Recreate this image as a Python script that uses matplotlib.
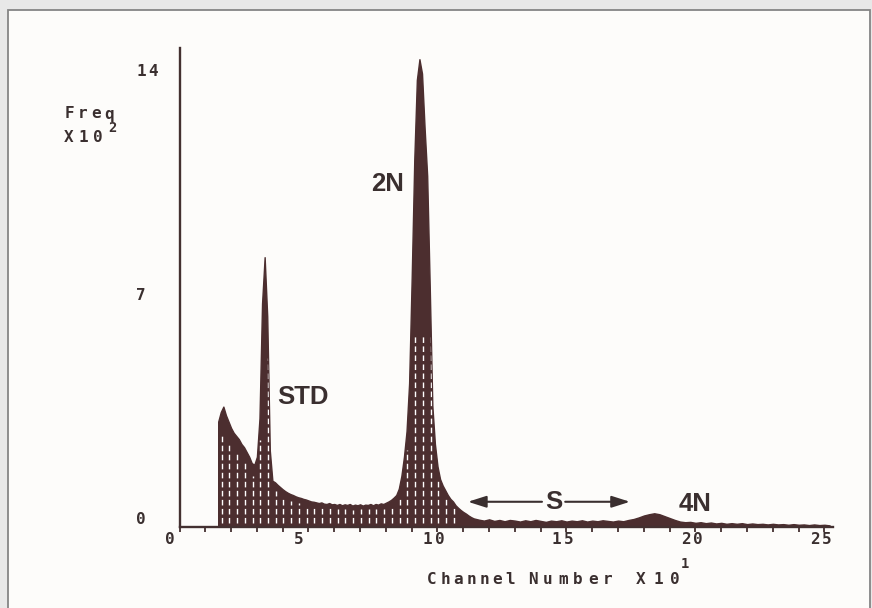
import numpy as np
import matplotlib
matplotlib.use("Agg")
import matplotlib.pyplot as plt
from matplotlib.patches import Rectangle

# ---------------- data ----------------
# channel number (raw channels; axis is in units of 10 channels)
channels = [15, 16, 17, 18, 19, 20, 21, 22, 23, 24, 25, 26, 27, 28, 29,
            30, 31, 32, 33, 34, 35, 36, 37, 38, 39, 40, 41, 42, 43, 44,
            45, 46, 47, 48, 49, 50, 51, 52, 53, 54, 55, 56, 57, 58, 59,
            60, 61, 62, 63, 64, 65, 66, 67, 68, 69, 70, 71, 72, 73, 74,
            75, 76, 77, 78, 79, 80, 81, 82, 83, 84, 85, 86, 87, 88, 89,
            90, 91, 92, 93, 94, 95, 96, 97, 98, 99, 100, 101, 102, 103, 104,
            105, 106, 107, 108, 109, 110, 111, 112, 113, 114, 115,
            116, 118, 120, 122, 124, 126, 128, 130, 132, 134, 136, 138, 140,
            142, 144, 146, 148, 150, 152, 154, 156, 158, 160, 162, 164, 166,
            168, 170, 172, 174, 176, 178, 180, 182, 184, 186, 188, 190, 192,
            194, 196, 198, 200, 202, 204, 206, 208, 210, 212, 214, 216, 218,
            220, 222, 224, 226, 228, 230, 232, 234, 236, 238, 240, 242, 244,
            246, 248, 250, 252]
# frequency in units of 10^2
freq = [3.3, 3.6, 3.77, 3.5, 3.3, 3.1, 2.95, 2.85, 2.75, 2.6, 2.5, 2.35, 2.2, 2.0, 1.95,
        2.2, 3.4, 7.0, 8.45, 6.6, 2.4, 1.45, 1.4, 1.32, 1.25, 1.18, 1.12, 1.07, 1.03, 1.0,
        0.96, 0.93, 0.91, 0.88, 0.86, 0.83, 0.8, 0.79, 0.77, 0.75, 0.77, 0.73, 0.72, 0.75, 0.71,
        0.72, 0.69, 0.72, 0.68, 0.71, 0.69, 0.72, 0.67, 0.7, 0.68, 0.71, 0.67, 0.7, 0.69, 0.72,
        0.68, 0.72, 0.7, 0.74, 0.72, 0.76, 0.8, 0.85, 0.92, 1.0, 1.2, 1.6, 2.2, 3.0, 4.5,
        7.8, 11.5, 14.0, 14.65, 14.2, 12.5, 11.0, 7.5, 3.8, 2.6, 1.9, 1.5, 1.3, 1.15, 1.0,
        0.88, 0.8, 0.68, 0.6, 0.53, 0.47, 0.42, 0.36, 0.31, 0.27, 0.25,
        0.23, 0.2, 0.24, 0.19, 0.22, 0.18, 0.22, 0.2, 0.17, 0.21, 0.18, 0.22, 0.19,
        0.16, 0.2, 0.18, 0.21, 0.17, 0.2, 0.18, 0.21, 0.17, 0.2, 0.18, 0.21, 0.19,
        0.17, 0.2, 0.18, 0.22, 0.25, 0.3, 0.36, 0.4, 0.43, 0.4, 0.34, 0.28, 0.22,
        0.17, 0.15, 0.16, 0.13, 0.15, 0.12, 0.14, 0.11, 0.13, 0.1, 0.12, 0.1, 0.12,
        0.09, 0.11, 0.09, 0.1, 0.08, 0.1, 0.08, 0.09, 0.07, 0.09, 0.07, 0.08, 0.06,
        0.08, 0.06, 0.07, 0.05]

x_ticks = [0, 5, 10, 15, 20, 25]
x_tick_labels = ["0", "5", "10", "15", "20", "25"]
y_ticks = [0, 7, 14]
y_tick_labels = ["0", "7", "14"]
peak_names = ["STD", "2N", "4N"]
peak_pos = [(4.79, 4.08), (8.05, 10.75), (19.98, 0.72)]   # label anchor (x in 10 ch, y in 10^2)
s_label = "S"
s_range = (11.18, 17.46)
s_level = 0.79

W, H = 872, 608
ink = "#4c2e2f"
txt = "#3a2f2f"

fig = plt.figure(figsize=(W / 100, H / 100), dpi=100)
fig.patch.set_facecolor("#e8e8e8")
fig.patches.append(Rectangle((8 / W, -0.02), (870 - 8) / W, (H - 10) / H + 0.02,
                             transform=fig.transFigure, facecolor="#fdfcfa",
                             edgecolor="#858585", lw=1.3, zorder=-5))

ax = fig.add_axes([179.5 / W, 81 / H, (833 - 179.5) / W, 479 / H])
ax.set_zorder(2)
ax.set_facecolor("none")
ax.set_xlim(0, 25.33)
ax.set_ylim(0, 15.0)

x = np.array(channels) / 10.0
y = np.array(freq)
poly = ax.fill_between(x, 0, y, color=ink, lw=1.0, edgecolor=ink, zorder=2)

# plotter texture: dashed white gaps inside the histogram
clip = poly.get_paths()[0]
for c, f in zip(channels, freq):
    if c % 3 == 1 and f > 0.55 and c < 112:
        top = min(f * 0.8, 6.0)
        ln = ax.vlines(c / 10.0 + 0.03, 0.12, top, colors="white",
                       linestyles=(0, (4, 2.5)), lw=1.0, zorder=3)
        ln.set_clip_path(clip, transform=ax.transData)

for s in ["top", "right"]:
    ax.spines[s].set_visible(False)
for s in ["left", "bottom"]:
    ax.spines[s].set_color("#433030")
    ax.spines[s].set_linewidth(1.7)

ax.set_xticks(np.arange(0, 26, 1))
ax.set_xticklabels([])
ax.set_yticks([])
ax.tick_params(axis="x", direction="out", length=3.5, width=1.3, color="#433030")


def spaced(xc, yc, s, pitch=14.0, size=11.5, weight="bold"):
    for i, ch in enumerate(s):
        fig.text((xc + i * pitch) / W, 1 - yc / H, ch, ha="center", va="center",
                 fontsize=size, family="DejaVu Sans Mono", weight=weight, color=txt)


fig.canvas.draw()
to_px = ax.transData.transform
for v, lab in zip(x_ticks, x_tick_labels):
    px = to_px((v, 0))[0]
    spaced(px - 10, 540, lab, pitch=12.5)
for v, lab in zip(y_ticks, y_tick_labels):
    py = H - to_px((0, v))[1]
    spaced(141, py - 8, lab, pitch=12.5)

# axis titles
spaced(69, 114, "Freq", pitch=13.5)
spaced(69, 138, "X10", pitch=14.5)
spaced(112, 128.5, "2", size=10)
spaced(432, 579, "Channel", pitch=13)
spaced(533, 579, "Number", pitch=15)
spaced(641, 579, "X10", pitch=17)
spaced(685, 564, "1", size=10)

# peak labels
for name, (px_, py_) in zip(peak_names, peak_pos):
    ax.text(px_, py_, name, ha="center", va="center", fontsize=18.5,
            family="Liberation Sans", weight="bold", color=txt, zorder=4)

s_mid = 14.5
ax.text(s_mid, s_level, s_label, ha="center", va="center", fontsize=18.5,
        family="Liberation Sans", weight="bold", color=txt, zorder=4)
for end, start in [(s_range[0], s_mid - 0.45), (s_range[1], s_mid + 0.45)]:
    ax.annotate("", xy=(end, s_level), xytext=(start, s_level),
                arrowprops=dict(arrowstyle="-|>,head_length=1.1,head_width=0.35",
                                mutation_scale=10, lw=1.5, color=txt,
                                shrinkA=0, shrinkB=0))

fig.savefig("out.png", dpi=100, facecolor=fig.get_facecolor())
